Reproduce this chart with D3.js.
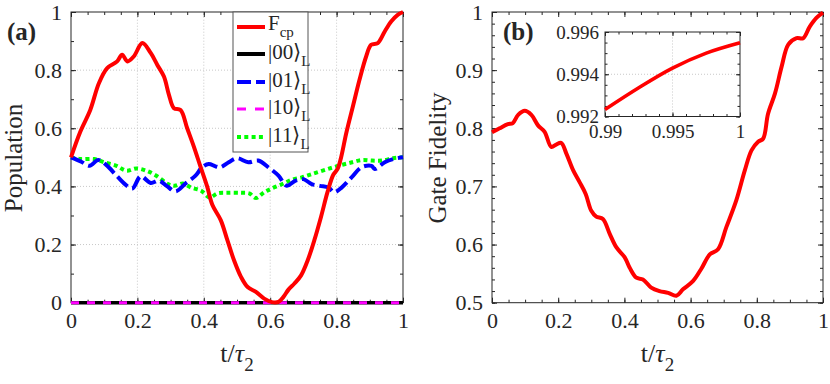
<!DOCTYPE html>
<html><head><meta charset="utf-8">
<script src="https://cdn.jsdelivr.net/npm/d3@7/dist/d3.min.js"></script>
<style>
body{margin:0;background:#fff;}
text{font-family:"Liberation Serif","Times New Roman",serif;fill:#262626;}
</style></head>
<body><svg id="c" width="830" height="384"></svg>
<script>
// ---------- DATA ----------
const fcp = [[0,0.5],[0.028,0.588],[0.058,0.663],[0.084,0.755],[0.109,0.807],[0.139,0.83],[0.154,0.853],[0.17,0.83],[0.189,0.847],[0.215,0.893],[0.24,0.859],[0.26,0.818],[0.28,0.778],[0.295,0.715],[0.31,0.669],[0.33,0.663],[0.35,0.6],[0.37,0.537],[0.39,0.468],[0.41,0.4],[0.426,0.336],[0.451,0.284],[0.471,0.215],[0.491,0.146],[0.512,0.089],[0.532,0.054],[0.557,0.037],[0.582,0.014],[0.605,0.002],[0.625,0.003],[0.64,0.02],[0.655,0.045],[0.673,0.066],[0.693,0.094],[0.713,0.146],[0.733,0.215],[0.753,0.295],[0.773,0.382],[0.79,0.44],[0.803,0.46],[0.814,0.502],[0.829,0.583],[0.849,0.675],[0.869,0.767],[0.889,0.847],[0.904,0.887],[0.924,0.893],[0.945,0.933],[0.965,0.968],[0.985,0.991],[1,1]];
const pop00 = [[0,0],[1,0]];
const pop01 = [[0,0.5],[0.031,0.485],[0.056,0.471],[0.082,0.491],[0.106,0.474],[0.137,0.437],[0.165,0.405],[0.185,0.393],[0.21,0.435],[0.24,0.412],[0.265,0.42],[0.29,0.4],[0.315,0.383],[0.345,0.41],[0.375,0.437],[0.395,0.466],[0.415,0.477],[0.435,0.469],[0.45,0.466],[0.475,0.483],[0.5,0.497],[0.534,0.483],[0.564,0.489],[0.594,0.466],[0.625,0.437],[0.65,0.402],[0.675,0.419],[0.7,0.425],[0.725,0.408],[0.75,0.402],[0.776,0.396],[0.792,0.38],[0.815,0.396],[0.845,0.431],[0.875,0.466],[0.905,0.471],[0.915,0.46],[0.945,0.483],[0.97,0.494],[1,0.5]];
const pop10 = [[0,0],[1,0]];
const pop11 = [[0,0.5],[0.03,0.494],[0.07,0.494],[0.1,0.483],[0.137,0.471],[0.167,0.454],[0.197,0.462],[0.227,0.454],[0.257,0.437],[0.292,0.408],[0.312,0.402],[0.337,0.41],[0.362,0.396],[0.392,0.385],[0.418,0.362],[0.441,0.376],[0.471,0.378],[0.512,0.378],[0.537,0.376],[0.557,0.36],[0.582,0.38],[0.605,0.393],[0.64,0.41],[0.665,0.423],[0.695,0.431],[0.725,0.442],[0.766,0.457],[0.806,0.471],[0.847,0.483],[0.877,0.491],[0.907,0.489],[0.937,0.489],[0.97,0.497],[1,0.5]];
const fidelity = [[0,0.793],[0.023,0.8],[0.048,0.807],[0.063,0.809],[0.079,0.823],[0.099,0.83],[0.119,0.823],[0.139,0.805],[0.159,0.794],[0.179,0.768],[0.194,0.772],[0.209,0.775],[0.225,0.756],[0.245,0.728],[0.265,0.707],[0.283,0.687],[0.3,0.658],[0.315,0.648],[0.335,0.644],[0.356,0.618],[0.376,0.595],[0.401,0.578],[0.416,0.56],[0.436,0.543],[0.456,0.54],[0.481,0.526],[0.506,0.52],[0.532,0.517],[0.557,0.512],[0.577,0.523],[0.607,0.537],[0.632,0.558],[0.658,0.583],[0.683,0.592],[0.708,0.63],[0.738,0.676],[0.764,0.728],[0.784,0.762],[0.804,0.777],[0.819,0.782],[0.834,0.825],[0.855,0.86],[0.875,0.906],[0.895,0.944],[0.92,0.955],[0.94,0.955],[0.96,0.975],[0.98,0.99],[1,0.999]];
const insetFid = [[0.99,0.99233],[0.9925,0.99336],[0.995,0.99429],[0.9975,0.995],[1,0.99549]];
const xTicks = [0,0.2,0.4,0.6,0.8,1];
const yTicksA = [0,0.2,0.4,0.6,0.8,1];
const yTicksB = [0.5,0.6,0.7,0.8,0.9,1];
const xTicksIn = [0.99,0.995,1];
const yTicksIn = [0.992,0.994,0.996];
const legendLabels = [["F","cp"],["|00⟩","L"],["|01⟩","L"],["|10⟩","L"],["|11⟩","L"]];

// ---------- DRAW ----------
const svg = d3.select("#c");
const axisCol = "#262626";
const fmt = d3.format("~g");

function frame(g, x, y, xt, yt, xMinor, yMinor, fs, opts){
  const [x0,x1] = x.range(), [y0,y1] = y.range();
  if(opts.grid){
    g.append("g").selectAll("line.gx").data(opts.gridX||xt).join("line")
      .attr("x1",d=>x(d)).attr("x2",d=>x(d)).attr("y1",y0).attr("y2",y1)
      .attr("stroke","#c8c8c8").attr("stroke-width",1).attr("stroke-dasharray","1,2");
    g.append("g").selectAll("line.gy").data(opts.gridY||yt).join("line")
      .attr("y1",d=>y(d)).attr("y2",d=>y(d)).attr("x1",x0).attr("x2",x1)
      .attr("stroke","#c8c8c8").attr("stroke-width",1).attr("stroke-dasharray","1,2");
  }
  const tick = (ax, len)=> ax.tickSize(len).tickFormat("");
  const mk = (gen, tr)=> {
    const a = g.append("g").attr("transform",tr).call(gen);
    a.select(".domain").remove();
    a.selectAll("line").attr("stroke",axisCol).attr("stroke-width",1);
  };
  const ML = opts.major||5, mL = opts.minor||3;
  mk(tick(d3.axisBottom(x).tickValues(xMinor),-mL),`translate(0,${y0})`);
  mk(tick(d3.axisTop(x).tickValues(xMinor),-mL),`translate(0,${y1})`);
  mk(tick(d3.axisLeft(y).tickValues(yMinor),-mL),`translate(${x0},0)`);
  mk(tick(d3.axisRight(y).tickValues(yMinor),-mL),`translate(${x1},0)`);
  mk(tick(d3.axisBottom(x).tickValues(xt),-ML),`translate(0,${y0})`);
  mk(tick(d3.axisTop(x).tickValues(xt),-ML),`translate(0,${y1})`);
  mk(tick(d3.axisLeft(y).tickValues(yt),-ML),`translate(${x0},0)`);
  mk(tick(d3.axisRight(y).tickValues(yt),-ML),`translate(${x1},0)`);
  const bx = g.append("g").attr("transform",`translate(0,${y0})`)
    .call(d3.axisBottom(x).tickValues(xt).tickFormat(fmt).tickSize(0).tickPadding(opts.xpad||10));
  bx.select(".domain").remove();
  bx.selectAll("text").attr("font-size",fs).attr("font-family","Liberation Serif").attr("fill",axisCol);
  const ly = g.append("g").attr("transform",`translate(${x0},0)`)
    .call(d3.axisLeft(y).tickValues(yt).tickFormat(fmt).tickSize(0).tickPadding(opts.ypad||9));
  ly.select(".domain").remove();
  ly.selectAll("text").attr("font-size",fs).attr("font-family","Liberation Serif").attr("fill",axisCol);
  g.append("rect").attr("x",x0).attr("y",y1).attr("width",x1-x0).attr("height",y0-y1)
    .attr("fill","none").attr("stroke",axisCol).attr("stroke-width",1);
}

const range = (a,b,s)=>d3.range(Math.round((b-a)/s)+1).map(i=>+(a+i*s).toFixed(6));

// Panel (a)
const xa = d3.scaleLinear().domain([0,1]).range([71,403]);
const ya = d3.scaleLinear().domain([0,1]).range([302.7,12]);
const ga = svg.append("g");
frame(ga, xa, ya, xTicks, yTicksA, range(0,1,0.05), range(0,1,0.1), 22, {grid:true, gridX:[0.2,0.4,0.6,0.8], gridY:[0.2,0.4,0.6,0.8]});
const lineA = d3.line().x(d=>xa(d[0])).y(d=>ya(d[1])).curve(d3.curveCatmullRom.alpha(0.5));
const seriesA = [
  {data:pop00, color:"#000000", w:3.5, dash:null},
  {data:pop10, color:"#ff00ff", w:3, dash:"8,8"},
  {data:pop11, color:"#00ff00", w:4, dash:"4,3.3"},
  {data:pop01, color:"#0000ff", w:4, dash:"14,5"},
  {data:fcp, color:"#ff0000", w:4, dash:null}
];
seriesA.forEach(s=>{
  ga.append("path").datum(s.data).attr("d",lineA).attr("fill","none")
    .attr("stroke",s.color).attr("stroke-width",s.w)
    .attr("stroke-dasharray",s.dash).attr("stroke-linejoin","round");
});
const legStyles = [
  {color:"#ff0000", w:4, dash:null},
  {color:"#000000", w:4, dash:null},
  {color:"#0000ff", w:4, dash:"14,5"},
  {color:"#ff00ff", w:3, dash:"9,9"},
  {color:"#00ff00", w:4, dash:"4,3.3"}
];
const lg = ga.append("g");
lg.append("rect").attr("x",233).attr("y",12).attr("width",75).attr("height",140)
  .attr("fill","#fff").attr("stroke","#555").attr("stroke-width",1);
const rowY = [27,54,82,109,137];
legendLabels.forEach((lab,i)=>{
  const st = legStyles[i];
  lg.append("line").attr("x1",237).attr("x2",265).attr("y1",rowY[i]).attr("y2",rowY[i])
    .attr("stroke",st.color).attr("stroke-width",st.w).attr("stroke-dasharray",st.dash);
  const t = lg.append("text").attr("x",268).attr("y",rowY[i]+(i===0?3:5)).attr("font-size",21);
  t.append("tspan").text(lab[0]);
  t.append("tspan").attr("dy",7).attr("font-size",15).text(lab[1]);
});
ga.append("text").attr("x",7).attr("y",40).attr("font-size",25).attr("font-weight","bold").attr("fill","#000").text("(a)");
ga.append("text").attr("transform","translate(22,158) rotate(-90)").attr("text-anchor","middle").attr("font-size",25).text("Population");
const xla = ga.append("text").attr("x",237).attr("y",362).attr("text-anchor","middle").attr("font-size",26);
xla.append("tspan").text("t/");
xla.append("tspan").attr("font-style","italic").text("τ");
xla.append("tspan").attr("dy",9).attr("font-size",19).text("2");

// Panel (b)
const xb = d3.scaleLinear().domain([0,1]).range([492,823]);
const yb = d3.scaleLinear().domain([0.5,1]).range([302.7,12]);
const gb = svg.append("g");
frame(gb, xb, yb, xTicks, yTicksB, range(0,1,0.05), range(0.5,1,0.02), 22, {grid:false});
const lineB = d3.line().x(d=>xb(d[0])).y(d=>yb(d[1])).curve(d3.curveCatmullRom.alpha(0.5));
gb.append("path").datum(fidelity).attr("d",lineB).attr("fill","none")
  .attr("stroke","#ff0000").attr("stroke-width",4).attr("stroke-linejoin","round");
gb.append("text").attr("x",503).attr("y",40).attr("font-size",25).attr("font-weight","bold").attr("fill","#000").text("(b)");
gb.append("text").attr("transform","translate(446,158) rotate(-90)").attr("text-anchor","middle").attr("font-size",25).text("Gate Fidelity");
const xlb = gb.append("text").attr("x",657.5).attr("y",362).attr("text-anchor","middle").attr("font-size",26);
xlb.append("tspan").text("t/");
xlb.append("tspan").attr("font-style","italic").text("τ");
xlb.append("tspan").attr("dy",9).attr("font-size",19).text("2");

// Inset
const xi = d3.scaleLinear().domain([0.99,1]).range([605,740]);
const yi = d3.scaleLinear().domain([0.992,0.996]).range([116.5,32]);
const gi = svg.append("g");
gi.append("rect").attr("x",605).attr("y",32).attr("width",135).attr("height",84.5).attr("fill","#fff");
frame(gi, xi, yi, xTicksIn, yTicksIn, range(0.99,1,0.001), range(0.992,0.996,0.0005), 19, {grid:true, gridX:[0.995], gridY:[0.994], major:4, minor:2.5, xpad:8, ypad:6});
const lineI = d3.line().x(d=>xi(d[0])).y(d=>yi(d[1])).curve(d3.curveCatmullRom.alpha(0.5));
gi.append("path").datum(insetFid).attr("d",lineI).attr("fill","none")
  .attr("stroke","#ff0000").attr("stroke-width",3.5);
</script></body></html>
